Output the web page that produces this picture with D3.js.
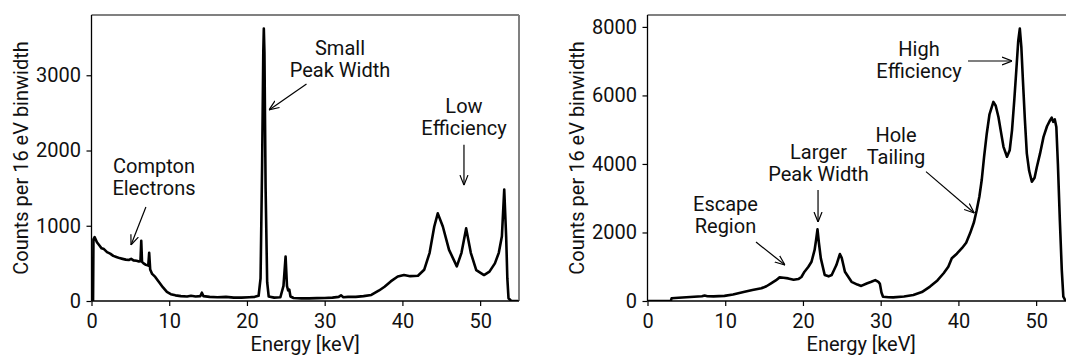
<!DOCTYPE html>
<html>
<head>
<meta charset="utf-8">
<script src="https://cdn.jsdelivr.net/npm/d3@7"></script>
<style>
  body { margin: 0; background: #fff; }
  svg { display: block; font-family: Roboto, sans-serif; }
</style>
</head>
<body>
<svg id="chart" width="1066" height="356"></svg>
<script>
// spectra: energy [keV] and counts per 16 eV bin
const leftEnergy = [0, 0.2, 0.25, 0.4, 0.7, 1.0, 1.3, 1.6, 2.0, 2.4, 2.8, 3.2, 3.6, 4.0, 4.4, 4.8, 5.1, 5.4, 5.8, 6.1,
  6.3, 6.4, 6.5, 6.7, 7.0, 7.3, 7.42, 7.55, 7.8, 8.2, 8.7, 9.2, 9.7, 10.2, 10.8, 11.5, 12.3, 12.8, 13.4, 14.0,
  14.2, 14.4, 15.2, 16.2, 17.3, 18.3, 19.3, 20.3, 21.0, 21.5, 21.75, 21.95, 22.1, 22.17, 22.25, 22.4, 22.6, 22.8, 23.5, 24.3,
  24.7, 24.97, 25.15, 25.3, 25.45, 25.6, 26.0, 27.0, 28.0, 29.0, 30.0, 31.0, 31.8, 32.1, 32.4, 33.0, 34.0, 35.0, 36.0, 37.0,
  37.7, 38.5, 39.4, 40.2, 41.0, 42.0, 42.8, 43.5, 44.1, 44.55, 45.2, 46.0, 47.0, 47.6, 48.2, 48.8, 49.5, 50.5, 51.2, 51.9,
  52.4, 52.8, 53.1, 53.35, 53.5, 53.65, 54.0, 55.0];
const leftCounts = [0, 0, 820, 850, 780, 740, 700, 690, 650, 630, 600, 585, 570, 560, 550, 545, 560, 540, 535, 525,
  530, 800, 520, 500, 480, 470, 640, 420, 360, 320, 250, 180, 120, 90, 75, 65, 60, 70, 60, 65,
  110, 65, 55, 50, 55, 45, 45, 50, 55, 70, 300, 1800, 3300, 3620, 3300, 1500, 250, 60, 45, 50,
  200, 590, 200, 140, 150, 60, 40, 35, 35, 38, 40, 45, 55, 75, 50, 55, 55, 65, 80, 140,
  190, 260, 325, 345, 330, 335, 415, 640, 990, 1165, 990, 680, 460, 640, 965, 640, 410, 345, 390, 500,
  640, 860, 1480, 850, 300, 36, 0, 0];

const rightEnergy = [0, 3.0, 3.1, 4, 5, 6, 7.0, 7.35, 7.7, 8.5, 9.9, 11, 12.5, 13.5, 14.65, 15.3, 15.9, 16.5, 17.0, 17.5,
  18.1, 18.8, 19.4, 19.8, 20.2, 20.7, 21.1, 21.5, 21.7, 21.87, 22.05, 22.3, 22.8, 23.3, 23.7, 24.3, 24.75, 25.0, 25.4, 26.25,
  27.0, 27.5, 28.2, 28.8, 29.3, 29.7, 29.9, 30.1, 30.3, 31.0, 31.6, 33.0, 34.2, 35.3, 36.35, 37.3, 38.1, 38.7, 39.15, 39.8,
  40.45, 41.0, 41.5, 42.0, 42.35, 42.7, 43.0, 43.3, 43.65, 44.0, 44.5, 44.8, 45.15, 45.5, 45.8, 46.25, 46.6, 46.9, 47.2, 47.45,
  47.7, 47.9, 48.1, 48.3, 48.55, 48.8, 49.1, 49.45, 49.8, 50.1, 50.5, 50.95, 51.4, 51.8, 52.0, 52.2, 52.4, 52.6, 52.8, 53.05,
  53.3, 53.5, 53.8, 55.0];
const rightCounts = [0, 0, 80, 95, 110, 125, 140, 160, 140, 135, 150, 190, 270, 320, 370, 430, 515, 600, 690, 680,
  660, 620, 640, 700, 855, 1000, 1145, 1490, 1800, 2090, 1700, 1245, 760, 720, 760, 1050, 1370, 1250, 855, 560,
  480, 440, 510, 560, 610, 560, 500, 250, 125, 110, 107, 130, 175, 260, 420, 600, 810, 1000, 1250, 1380,
  1540, 1700, 1975, 2300, 2650, 3050, 3530, 4200, 4890, 5450, 5810, 5700, 5370, 4900, 4500, 4210, 4400, 4990, 5900, 6735,
  7600, 7950, 7400, 6440, 5300, 4310, 3800, 3480, 3600, 3920, 4300, 4790, 5100, 5280, 5350, 5230, 5300, 5080, 4000, 2360,
  900, 125, 0, 0];

const xTicks = [0, 10, 20, 30, 40, 50];
const leftYTicks = [0, 1000, 2000, 3000];
const rightYTicks = [0, 2000, 4000, 6000, 8000];

// annotations in data coordinates: label anchor, arrow tail and arrow tip
const leftNotes = [
  { lines: ['Compton', 'Electrons'], at: [8.04, 1700], from: [7.0, 1250], to: [5.08, 745] },
  { lines: ['Small', 'Peak Width'], at: [31.97, 3270], from: [27.66, 2885], to: [22.84, 2540] },
  { lines: ['Low', 'Efficiency'], at: [47.92, 2500], from: [47.92, 2075], to: [47.92, 1540] },
];
const rightNotes = [
  { lines: ['Escape', 'Region'], at: [10.03, 2630], from: [13.96, 1720], to: [17.69, 1050] },
  { lines: ['Larger', 'Peak Width'], at: [22.0, 4130], from: [21.94, 3240], to: [21.94, 2305] },
  { lines: ['Hole', 'Tailing'], at: [31.97, 4650], from: [35.83, 3775], to: [42.04, 2570] },
  { lines: ['High', 'Efficiency'], at: [34.93, 7150], from: [41.23, 7005], to: [46.9, 7005] },
];

const svg = d3.select('#chart');
const plotTop = 15, plotBottom = 301, plotW = 427.5;
const fontSize = 20;

svg.append('defs').append('marker')
  .attr('id', 'arrow')
  .attr('viewBox', '0 0 10 10')
  .attr('refX', 10).attr('refY', 5)
  .attr('markerWidth', 10).attr('markerHeight', 10)
  .attr('markerUnits', 'userSpaceOnUse')
  .attr('orient', 'auto')
  .append('path')
  .attr('d', 'M0,1 L10,5 L0,9')
  .attr('fill', 'none')
  .attr('stroke', '#000')
  .attr('stroke-width', 1.2);

function drawPanel(left, energy, counts, yTicks, notes, yLabelX) {
  const x = d3.scaleLinear().domain([0, 55]).range([left, left + plotW]);
  const y = d3.scaleLinear().domain([0, d3.max(counts) * 1.05]).range([plotBottom, plotTop]);
  const g = svg.append('g');

  const xAxis = g.append('g')
    .attr('transform', `translate(0,${plotBottom})`)
    .call(d3.axisBottom(x).tickValues(xTicks).tickSize(5).tickPadding(8));
  const yAxis = g.append('g')
    .attr('transform', `translate(${left},0)`)
    .call(d3.axisLeft(y).tickValues(yTicks).tickFormat(d3.format('d')).tickSize(5).tickPadding(5.5));
  [xAxis, yAxis].forEach(a => {
    a.select('.domain').remove();
    a.selectAll('line').attr('stroke', '#000').attr('stroke-width', 1.2);
    a.selectAll('text').attr('font-size', fontSize).attr('font-family', 'Roboto, sans-serif').attr('fill', '#111');
  });

  // spectrum
  const clipId = `clip-${Math.round(left)}`;
  svg.select('defs').append('clipPath').attr('id', clipId)
    .append('rect').attr('x', left).attr('y', plotTop - 5).attr('width', plotW).attr('height', plotBottom - plotTop + 5);
  g.append('path')
    .datum(energy.map((e, i) => [e, counts[i]]))
    .attr('clip-path', `url(#${clipId})`)
    .attr('fill', 'none')
    .attr('stroke', '#000')
    .attr('stroke-width', 2.6)
    .attr('stroke-linejoin', 'round')
    .attr('d', d3.line().x(d => x(d[0])).y(d => y(d[1])));

  // spines: top/right grey, left/bottom black
  g.append('line').attr('x1', left).attr('x2', left + plotW).attr('y1', plotTop).attr('y2', plotTop)
    .attr('stroke', '#808080').attr('stroke-width', 2);
  g.append('line').attr('x1', left + plotW).attr('x2', left + plotW).attr('y1', plotTop).attr('y2', plotBottom)
    .attr('stroke', '#808080').attr('stroke-width', 2);
  g.append('line').attr('x1', left).attr('x2', left).attr('y1', plotTop).attr('y2', plotBottom)
    .attr('stroke', '#000').attr('stroke-width', 1.3);
  g.append('line').attr('x1', left).attr('x2', left + plotW).attr('y1', plotBottom).attr('y2', plotBottom)
    .attr('stroke', '#000').attr('stroke-width', 1.3);

  // axis titles
  g.append('text')
    .attr('x', left + plotW / 2).attr('y', 351)
    .attr('text-anchor', 'middle').attr('font-size', fontSize).attr('fill', '#111')
    .text('Energy [keV]');
  g.append('text')
    .attr('transform', `translate(${yLabelX},${(plotTop + plotBottom) / 2}) rotate(-90)`)
    .attr('text-anchor', 'middle').attr('font-size', fontSize).attr('fill', '#111')
    .text('Counts per 16 eV binwidth');

  // annotations
  notes.forEach(n => {
    g.append('line')
      .attr('x1', x(n.from[0])).attr('y1', y(n.from[1]))
      .attr('x2', x(n.to[0])).attr('y2', y(n.to[1]))
      .attr('stroke', '#000').attr('stroke-width', 1.2)
      .attr('marker-end', 'url(#arrow)');
    g.append('text')
      .attr('text-anchor', 'middle').attr('font-size', fontSize).attr('fill', '#111')
      .selectAll('tspan')
      .data(n.lines)
      .join('tspan')
      .attr('x', x(n.at[0]))
      .attr('y', (d, i) => y(n.at[1]) + i * 22)
      .text(d => d);
  });
}

drawPanel(91.5, leftEnergy, leftCounts, leftYTicks, leftNotes, 28);
drawPanel(647.5, rightEnergy, rightCounts, rightYTicks, rightNotes, 584);
</script>
</body>
</html>
